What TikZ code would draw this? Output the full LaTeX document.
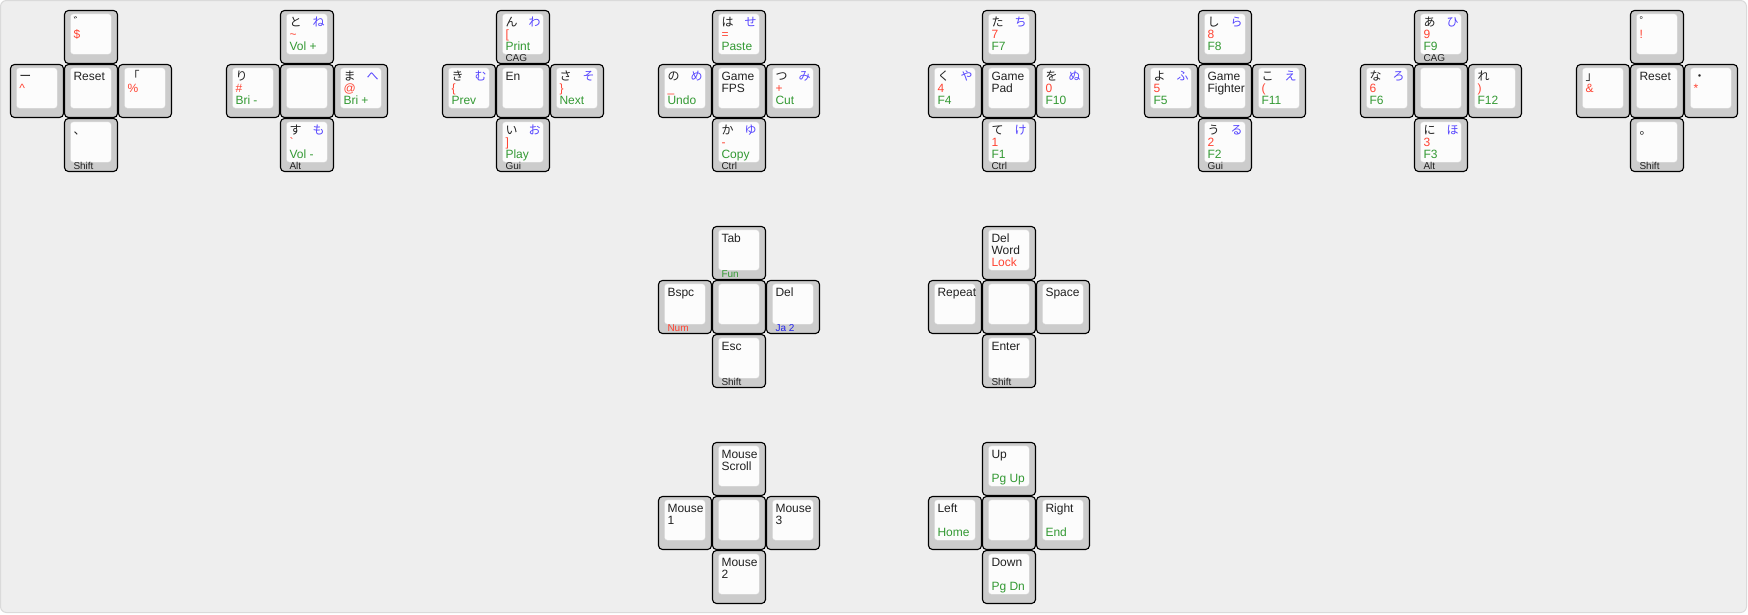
\documentclass[tikz,border=0pt]{standalone}
\usepackage{fontspec}
\setmainfont{Liberation Sans}
\newfontfamily\jpf{Noto Sans CJK JP}
\usetikzlibrary{calc}
\definecolor{bgc}{HTML}{EEEEEE}
\definecolor{bgb}{HTML}{DADADA}
\definecolor{capgray}{HTML}{CCCCCC}
\definecolor{capface}{HTML}{FCFCFC}
\definecolor{ink}{HTML}{222222}
\definecolor{lred}{HTML}{FF4433}
\definecolor{lgreen}{HTML}{339933}
\definecolor{lblue}{HTML}{5544FF}
\definecolor{jablue}{HTML}{2222EE}
\tikzset{
 keyouter/.style={draw=black, line width=1.1pt, fill=capgray, rounded corners=4pt, minimum width=53pt, minimum height=53pt, inner sep=0pt, outer sep=0pt},
 keyface/.style={fill=capface, draw=capface!88!black, line width=0.3pt, rounded corners=3pt},
 leg/.style={inner sep=0pt, outer sep=0pt, anchor=base west, font=\fontsize{12}{12}\selectfont, text=ink},
 legr/.style={inner sep=0pt, outer sep=0pt, anchor=base east, font=\fontsize{12}{12}\selectfont\jpf, text=lblue},
 legb/.style={inner sep=0pt, outer sep=0pt, anchor=base west, font=\fontsize{10}{10}\selectfont, text=ink},
}
\newcommand\keycap[3]{%
  \node[keyouter] (#1) at (#2+26.5,#3+26.5) {};
  \fill[keyface] ($(#1.north west)+(6,3.4)$) rectangle ($(#1.south east)+(-6.3,-9.3)$);
}
\newcommand\cluster[3]{%
  \keycap{#1t}{#2}{#3}
  \keycap{#1l}{#2-54}{#3+54}
  \keycap{#1c}{#2}{#3+54}
  \keycap{#1r}{#2+54}{#3+54}
  \keycap{#1b}{#2}{#3+108}
}
\newcommand\legL[4]{\node[leg, text=#3] (#1-l#2) at ($(#1.north west)+(9,{3.8+12*#2})$) {#4};}
\newcommand\legR[2]{\node[legr] (#1-r) at ($(#1.north east)+(-8.8,15.8)$) {#2};}
\newcommand\legB[3]{\node[legb, text=#2] (#1-b) at ($(#1.north west)+(9,51)$) {#3};}
\newcommand\kana[4]{% key, black kana, blue kana, red, green
  \legL{#1}{1}{ink}{\jpf #2}\legR{#1}{#3}\legL{#1}{2}{lred}{#4}}
\begin{document}
\begin{tikzpicture}[x=1pt,y=-1pt]
\path[use as bounding box] (0,0) rectangle (1748,614);
\draw[bgb, fill=bgc, rounded corners=6pt, line width=1pt] (0.5,0.5) rectangle (1746.5,612.5);
% clusters
\cluster{a}{64.5}{10.5}
\cluster{b}{280.5}{10.5}
\cluster{c}{496.5}{10.5}
\cluster{d}{712.5}{10.5}
\cluster{e}{982.5}{10.5}
\cluster{f}{1198.5}{10.5}
\cluster{g}{1414.5}{10.5}
\cluster{h}{1630.5}{10.5}
\cluster{i}{712.5}{226.5}
\cluster{j}{982.5}{226.5}
\cluster{k}{712.5}{442.5}
\cluster{m}{982.5}{442.5}
% cluster a
\legL{at}{1}{ink}{\jpf ゛}\legL{at}{2}{lred}{\$}
\legL{al}{1}{ink}{\jpf ー}\legL{al}{2}{lred}{\textasciicircum}
\legL{ac}{1}{ink}{Reset}
\legL{ar}{1}{ink}{\jpf 「}\legL{ar}{2}{lred}{\%}
\legL{ab}{1}{ink}{\jpf 、}\legB{ab}{ink}{Shift}
% cluster b
\kana{bt}{と}{ね}{\textasciitilde}\legL{bt}{3}{lgreen}{Vol +}
\legL{bl}{1}{ink}{\jpf り}\legL{bl}{2}{lred}{\#}\legL{bl}{3}{lgreen}{Bri -}
\kana{br}{ま}{へ}{@}\legL{br}{3}{lgreen}{Bri +}
\kana{bb}{す}{も}{\textasciigrave}\legL{bb}{3}{lgreen}{Vol -}\legB{bb}{ink}{Alt}
% cluster c
\kana{ct}{ん}{わ}{[}\legL{ct}{3}{lgreen}{Print}\legB{ct}{ink}{CAG}
\kana{cl}{き}{む}{\{}\legL{cl}{3}{lgreen}{Prev}
\legL{cc}{1}{ink}{En}
\kana{cr}{さ}{そ}{\}}\legL{cr}{3}{lgreen}{Next}
\kana{cb}{い}{お}{]}\legL{cb}{3}{lgreen}{Play}\legB{cb}{ink}{Gui}
% cluster d
\kana{dt}{は}{せ}{=}\legL{dt}{3}{lgreen}{Paste}
\kana{dl}{の}{め}{\_}\legL{dl}{3}{lgreen}{Undo}
\legL{dc}{1}{ink}{Game}\legL{dc}{2}{ink}{FPS}
\kana{dr}{つ}{み}{+}\legL{dr}{3}{lgreen}{Cut}
\kana{db}{か}{ゆ}{-}\legL{db}{3}{lgreen}{Copy}\legB{db}{ink}{Ctrl}
% cluster e
\kana{et}{た}{ち}{7}\legL{et}{3}{lgreen}{F7}
\kana{el}{く}{や}{4}\legL{el}{3}{lgreen}{F4}
\legL{ec}{1}{ink}{Game}\legL{ec}{2}{ink}{Pad}
\kana{er}{を}{ぬ}{0}\legL{er}{3}{lgreen}{F10}
\kana{eb}{て}{け}{1}\legL{eb}{3}{lgreen}{F1}\legB{eb}{ink}{Ctrl}
% cluster f
\kana{ft}{し}{ら}{8}\legL{ft}{3}{lgreen}{F8}
\kana{fl}{よ}{ふ}{5}\legL{fl}{3}{lgreen}{F5}
\legL{fc}{1}{ink}{Game}\legL{fc}{2}{ink}{Fighter}
\kana{fr}{こ}{え}{(}\legL{fr}{3}{lgreen}{F11}
\kana{fb}{う}{る}{2}\legL{fb}{3}{lgreen}{F2}\legB{fb}{ink}{Gui}
% cluster g
\kana{gt}{あ}{ひ}{9}\legL{gt}{3}{lgreen}{F9}\legB{gt}{ink}{CAG}
\kana{gl}{な}{ろ}{6}\legL{gl}{3}{lgreen}{F6}
\legL{gr}{1}{ink}{\jpf れ}\legL{gr}{2}{lred}{)}\legL{gr}{3}{lgreen}{F12}
\kana{gb}{に}{ほ}{3}\legL{gb}{3}{lgreen}{F3}\legB{gb}{ink}{Alt}
% cluster h
\legL{ht}{1}{ink}{\jpf ゜}\legL{ht}{2}{lred}{!}
\legL{hl}{1}{ink}{\jpf 」}\legL{hl}{2}{lred}{\&}
\legL{hc}{1}{ink}{Reset}
\legL{hr}{1}{ink}{\jpf ・}\legL{hr}{2}{lred}{*}
\legL{hb}{1}{ink}{\jpf 。}\legB{hb}{ink}{Shift}
% cluster i
\legL{it}{1}{ink}{Tab}\legB{it}{lgreen}{Fun}
\legL{il}{1}{ink}{Bspc}\legB{il}{lred}{Num}
\legL{ir}{1}{ink}{Del}\legB{ir}{jablue}{Ja 2}
\legL{ib}{1}{ink}{Esc}\legB{ib}{ink}{Shift}
% cluster j
\legL{jt}{1}{ink}{Del}\legL{jt}{2}{ink}{Word}\legL{jt}{3}{lred}{Lock}
\legL{jl}{1}{ink}{Repeat}
\legL{jr}{1}{ink}{Space}
\legL{jb}{1}{ink}{Enter}\legB{jb}{ink}{Shift}
% cluster k
\legL{kt}{1}{ink}{Mouse}\legL{kt}{2}{ink}{Scroll}
\legL{kl}{1}{ink}{Mouse}\legL{kl}{2}{ink}{1}
\legL{kr}{1}{ink}{Mouse}\legL{kr}{2}{ink}{3}
\legL{kb}{1}{ink}{Mouse}\legL{kb}{2}{ink}{2}
% cluster m
\legL{mt}{1}{ink}{Up}\legL{mt}{3}{lgreen}{Pg Up}
\legL{ml}{1}{ink}{Left}\legL{ml}{3}{lgreen}{Home}
\legL{mr}{1}{ink}{Right}\legL{mr}{3}{lgreen}{End}
\legL{mb}{1}{ink}{Down}\legL{mb}{3}{lgreen}{Pg Dn}
\end{tikzpicture}
\end{document}
